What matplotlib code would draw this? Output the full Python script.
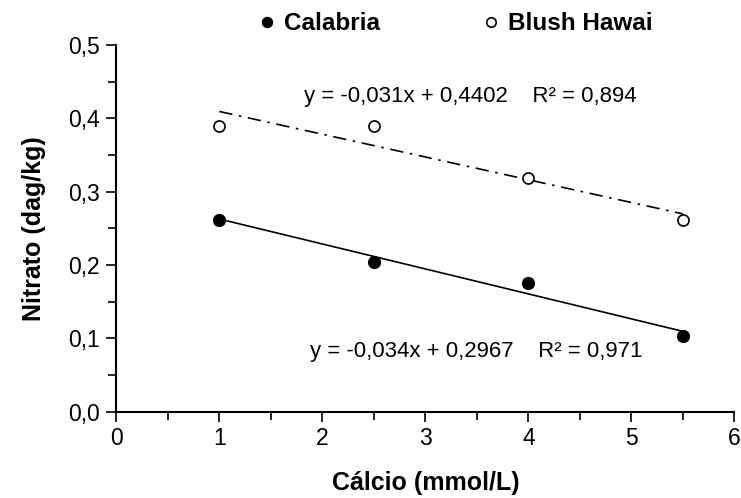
import matplotlib
matplotlib.use("Agg")
import matplotlib.pyplot as plt
import numpy as np
from matplotlib.ticker import MultipleLocator, FuncFormatter

# data
calcio = [1.0, 2.5, 4.0, 5.5]
calabria = [0.262, 0.204, 0.176, 0.103]
blush = [0.390, 0.390, 0.318, 0.262]

# trend lines as printed on the chart
cal_slope, cal_icpt, cal_r2 = -0.034, 0.2967, 0.971
blu_slope, blu_icpt, blu_r2 = -0.031, 0.4402, 0.894

plt.rcParams['font.family'] = ['Liberation Sans', 'DejaVu Sans']

fig = plt.figure(figsize=(7.41, 4.98), dpi=100)
ax = fig.add_axes([0.157, 0.173, 0.834, 0.737])

xs = np.array([calcio[0], calcio[-1]])
ax.plot(xs, cal_slope * xs + cal_icpt, color='black', lw=1.2)
ax.plot(xs, blu_slope * xs + blu_icpt, color='black', lw=1.2,
        dashes=(8, 4, 1.5, 4))

ax.plot(calcio, calabria, 'o', ms=8.5, mfc='black', mec='black',
        label='Calabria', ls='none')
ax.plot(calcio, blush, 'o', ms=8, mfc='white', mec='black', mew=1.2,
        label='Blush Hawai', ls='none')


def comma(v, nd):
    return f"{v:.{nd}f}".replace('.', ',')


ax.text(1.82, 0.429, f"y = {comma(blu_slope, 3)}x + {comma(blu_icpt, 4)}"
        f"    R² = {comma(blu_r2, 3)}", fontsize=16, va='center')
ax.text(1.88, 0.082, f"y = {comma(cal_slope, 3)}x + {comma(cal_icpt, 4)}"
        f"    R² = {comma(cal_r2, 3)}", fontsize=16, va='center')

ax.set_xlim(0, 6)
ax.set_ylim(0, 0.5)
ax.xaxis.set_major_locator(MultipleLocator(1))
ax.xaxis.set_minor_locator(MultipleLocator(0.5))
ax.yaxis.set_major_locator(MultipleLocator(0.1))
ax.yaxis.set_minor_locator(MultipleLocator(0.05))
ax.xaxis.set_major_formatter(FuncFormatter(lambda v, p: f"{v:.0f}"))
ax.yaxis.set_major_formatter(FuncFormatter(lambda v, p: comma(v, 1)))

for s in ('top', 'right'):
    ax.spines[s].set_visible(False)
for s in ('left', 'bottom'):
    ax.spines[s].set_linewidth(1.5)
ax.tick_params(which='both', direction='out', width=1.2, labelsize=16.5)
ax.tick_params(which='major', length=7)
ax.tick_params(which='minor', length=6)
ax.tick_params(axis='x', pad=4)
ax.tick_params(axis='y', pad=5)

ax.set_xlabel('Cálcio (mmol/L)', fontsize=18, fontweight='bold', labelpad=15)
ax.set_ylabel('Nitrato (dag/kg)', fontsize=18, fontweight='bold', labelpad=16)

leg = ax.legend(loc='center', bbox_to_anchor=(0.546, 1.057), ncol=2,
                frameon=False, handlelength=1.0, handletextpad=0.2,
                columnspacing=4.1, markerscale=0.85,
                prop={'weight': 'bold', 'size': 17.5})

fig.savefig('out.png', dpi=100)
